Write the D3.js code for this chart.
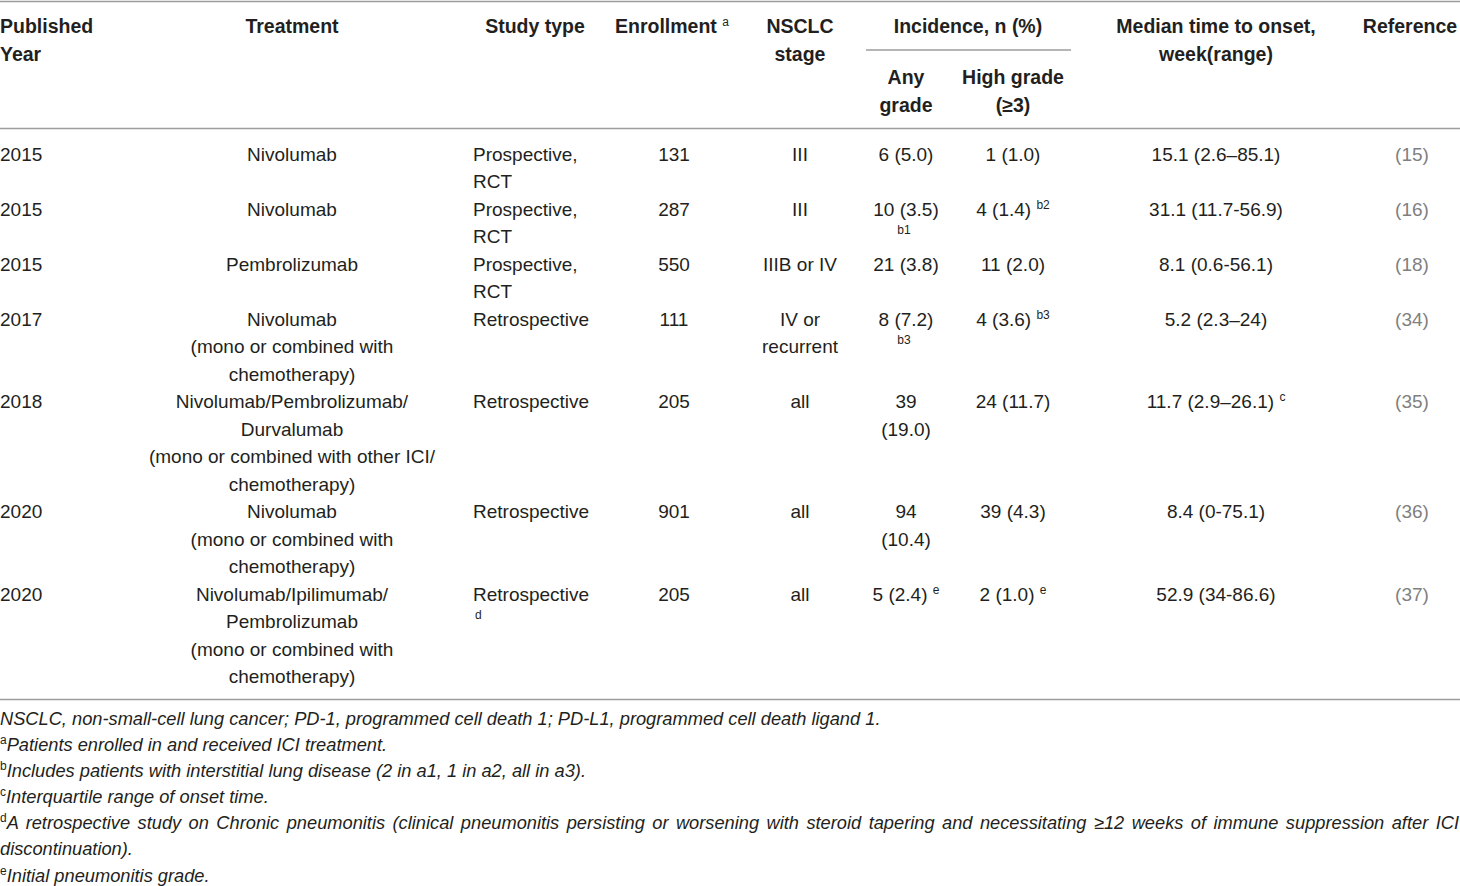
<!DOCTYPE html>
<html>
<head>
<meta charset="utf-8">
<script src="https://cdn.jsdelivr.net/npm/d3@7"></script>
<style>
  body { margin: 0; background: #fff; }
  text { font-family: "Liberation Sans", Arial, sans-serif; fill: #231f20; }
  .hd { font-weight: bold; font-size: 19.5px; }
  .cell { font-size: 19px; }
  .note { font-size: 12px; }
  .ref { fill: #7f7f7f; }
  .foot { font-style: italic; font-size: 18.25px; }
</style>
</head>
<body>
<div id="chart"></div>
<script>
// table values, one array per column
const years = ["2015", "2015", "2015", "2017", "2018", "2020", "2020"];
const treatments = [
  ["Nivolumab"],
  ["Nivolumab"],
  ["Pembrolizumab"],
  ["Nivolumab", "(mono or combined with", "chemotherapy)"],
  ["Nivolumab/Pembrolizumab/", "Durvalumab", "(mono or combined with other ICI/", "chemotherapy)"],
  ["Nivolumab", "(mono or combined with", "chemotherapy)"],
  ["Nivolumab/Ipilimumab/", "Pembrolizumab", "(mono or combined with", "chemotherapy)"]
];
const studyTypes = [
  ["Prospective,", "RCT"], ["Prospective,", "RCT"], ["Prospective,", "RCT"],
  ["Retrospective"], ["Retrospective"], ["Retrospective"], ["Retrospective"]
];
const studyNotes = ["", "", "", "", "", "", "\nd"];
const enrollment = [131, 287, 550, 111, 205, 901, 205];
const stages = [["III"], ["III"], ["IIIB or IV"], ["IV or", "recurrent"], ["all"], ["all"], ["all"]];
const anyGrade = [["6 (5.0)"], ["10 (3.5)"], ["21 (3.8)"], ["8 (7.2)"], ["39", "(19.0)"], ["94", "(10.4)"], ["5 (2.4)"]];
const anyNotes = ["", "\nb1", "", "\nb3", "", "", "e"];
const highGrade = [["1 (1.0)"], ["4 (1.4)"], ["11 (2.0)"], ["4 (3.6)"], ["24 (11.7)"], ["39 (4.3)"], ["2 (1.0)"]];
const highNotes = ["", "b2", "", "b3", "", "", "e"];
const medianOnset = ["15.1 (2.6–85.1)", "31.1 (11.7-56.9)", "8.1 (0.6-56.1)", "5.2 (2.3–24)",
                     "11.7 (2.9–26.1)", "8.4 (0-75.1)", "52.9 (34-86.6)"];
const medianNotes = ["", "", "", "", "c", "", ""];
const references = [15, 16, 18, 34, 35, 36, 37];
// lines each row takes up in the printed table
const rowLines = [2, 2, 2, 3, 4, 3, 4];

const footnotes = [
  {mark: "", text: "NSCLC, non-small-cell lung cancer; PD-1, programmed cell death 1; PD-L1, programmed cell death ligand 1."},
  {mark: "a", text: "Patients enrolled in and received ICI treatment."},
  {mark: "b", text: "Includes patients with interstitial lung disease (2 in a1, 1 in a2, all in a3)."},
  {mark: "c", text: "Interquartile range of onset time."},
  {mark: "d", text: "A retrospective study on Chronic pneumonitis (clinical pneumonitis persisting or worsening with steroid tapering and necessitating ≥12 weeks of immune suppression after ICI",
   justify: true},
  {mark: "", text: "discontinuation)."},
  {mark: "e", text: "Initial pneumonitis grade."}
];

const W = 1460, H = 886;
const svg = d3.select("#chart").append("svg")
  .attr("width", W).attr("height", H);

// columns: key -> x and anchor
const cols = {
  year:   {x: 0,    anchor: "start"},
  treat:  {x: 292,  anchor: "middle"},
  study:  {x: 473,  anchor: "start"},
  enroll: {x: 674,  anchor: "middle"},
  stage:  {x: 800,  anchor: "middle"},
  any:    {x: 906,  anchor: "middle"},
  high:   {x: 1013, anchor: "middle"},
  median: {x: 1216, anchor: "middle"},
  ref:    {x: 1412, anchor: "middle"}
};

// row line scale
const totalLines = d3.sum(rowLines);
const yLine = d3.scaleLinear().domain([0, totalLines - 1]).range([161, 683]);
const rowStart = d3.cumsum([0].concat(rowLines)).slice(0, rowLines.length);

// rules
const rule = (x1, x2, y) => svg.append("line")
  .attr("x1", x1).attr("x2", x2).attr("y1", y).attr("y2", y)
  .attr("stroke", "#9d9d9d").attr("stroke-width", 1.5);
rule(0, W, 1.5);
rule(0, W, 128.5);
rule(866, 1071, 50);
rule(0, W, 699.5);

// header
const hdr = svg.append("g").attr("class", "hd");
function headText(x, anchor, lines, y0) {
  lines.forEach((l, i) => {
    hdr.append("text").attr("x", x).attr("y", y0 + i * 27.5)
      .attr("text-anchor", anchor).text(l);
  });
}
headText(0, "start", ["Published", "Year"], 33);
headText(292, "middle", ["Treatment"], 33);
headText(535, "middle", ["Study type"], 33);
const enr = hdr.append("text").attr("x", 672).attr("y", 33).attr("text-anchor", "middle");
enr.append("tspan").text("Enrollment ");
enr.append("tspan").attr("class", "note").attr("font-weight", "normal").attr("dy", -7).text("a");
headText(800, "middle", ["NSCLC", "stage"], 33);
headText(968, "middle", ["Incidence, n (%)"], 33);
headText(906, "middle", ["Any", "grade"], 84);
headText(1013, "middle", ["High grade", "(≥3)"], 84);
headText(1216, "middle", ["Median time to onset,", "week(range)"], 33);
headText(1410, "middle", ["Reference"], 33);

// body cells
const body = svg.append("g").attr("class", "cell");
function cell(col, r, lines, note, cls) {
  const c = cols[col];
  const base = rowStart[r];
  lines.forEach((l, i) => {
    const t = body.append("text")
      .attr("x", c.x).attr("y", yLine(base + i))
      .attr("text-anchor", c.anchor)
      .attr("class", cls || null);
    t.append("tspan").text(l);
    const last = i === lines.length - 1;
    if (last && note && note[0] !== "\n") {
      t.append("tspan").text(" ");
      t.append("tspan").attr("class", "note").attr("dy", -7).text(note);
    }
  });
  // note pushed onto its own line
  if (note && note[0] === "\n") {
    const nx = c.anchor === "start" ? c.x + 2 : c.x - 2;
    body.append("text")
      .attr("x", nx).attr("y", yLine(base + lines.length) - 9)
      .attr("text-anchor", c.anchor)
      .attr("class", "note").text(note.slice(1));
  }
}

years.forEach((d, r) => {
  cell("year", r, [d]);
  cell("treat", r, treatments[r]);
  cell("study", r, studyTypes[r], studyNotes[r]);
  cell("enroll", r, [String(enrollment[r])]);
  cell("stage", r, stages[r]);
  cell("any", r, anyGrade[r], anyNotes[r]);
  cell("high", r, highGrade[r], highNotes[r]);
  cell("median", r, [medianOnset[r]], medianNotes[r]);
  cell("ref", r, ["(" + references[r] + ")"], "", "ref");
});

// footnotes
const foot = svg.append("g").attr("class", "foot");
const yFoot = d3.scaleLinear().domain([0, footnotes.length - 1]).range([725, 881.5]);
footnotes.forEach((f, i) => {
  const t = foot.append("text").attr("x", 0).attr("y", yFoot(i));
  if (f.mark) {
    t.append("tspan").attr("class", "note").attr("font-style", "normal")
      .attr("dy", -7).text(f.mark);
  }
  const main = t.append("tspan").attr("dy", f.mark ? 7 : 0).text(f.text);
  if (f.justify) {
    const len = t.node().getComputedTextLength();
    const gaps = f.text.split(" ").length - 1;
    main.attr("word-spacing", (W - 1 - len) / gaps);
  }
});
</script>
</body>
</html>
